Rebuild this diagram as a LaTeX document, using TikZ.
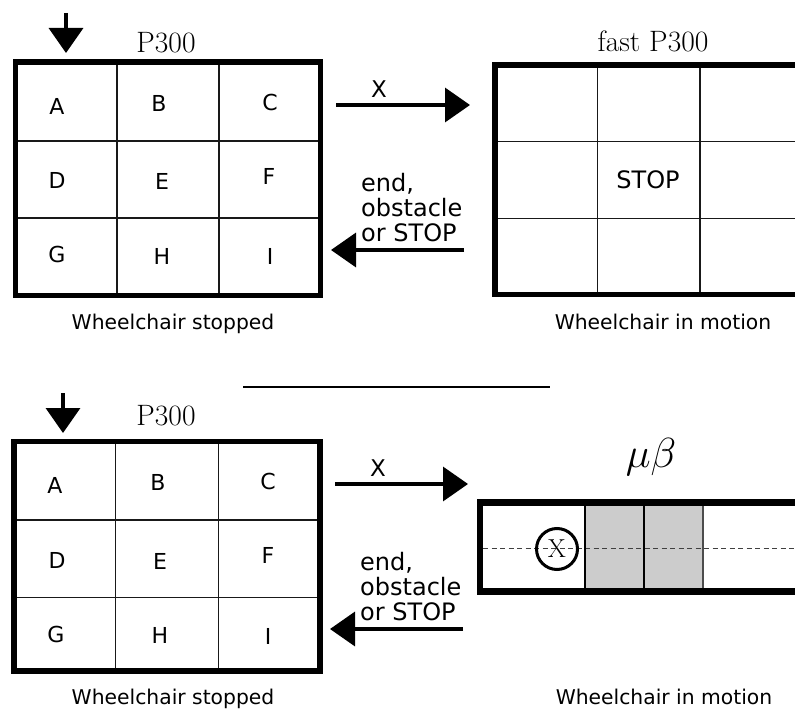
\documentclass[tikz,border=0pt]{standalone}
\usepackage{fontspec}
\newfontfamily\dejavu{DejaVu Sans}
\usetikzlibrary{arrows.meta}
\begin{document}
\begin{tikzpicture}[x=1pt,y=-1pt,
  frame/.style={line width=5.6pt, line join=miter},
  gridline/.style={line width=1.4pt, draw=black!90},
  celltext/.style={font=\dejavu\fontsize{22}{24}\selectfont, inner sep=0pt, anchor=base},
  caption/.style={font=\dejavu\fontsize{20.3}{24}\selectfont, inner sep=0pt, anchor=base},
  cond/.style={font=\dejavu\fontsize{24}{25}\selectfont, inner sep=0pt, anchor=base west},
  arrowlab/.style={font=\dejavu\fontsize{23}{25}\selectfont, inner sep=0pt, anchor=base},
  title/.style={font=\fontsize{29.5}{32}\selectfont, inner sep=0pt, anchor=base},
  flow/.style={line width=3.5pt, -{Triangle[length=25pt,width=34pt]}},
]
\useasboundingbox (0,0) rectangle (795,711);
\clip (0,0) rectangle (795,711);

% ---------- top-left grid ----------
\draw[gridline] (117,62) -- (117,295.5) (219,62) -- (219,295.5)
                (15.5,141) -- (320.5,141) (15.5,218) -- (320.5,218);
\draw[frame] (15.5,62) rectangle (320.5,295.5);
\node[celltext] (tA) at (57,115) {A};
\node[celltext] (tB) at (159,112) {B};
\node[celltext] (tC) at (270,111) {C};
\node[celltext] (tD) at (57,189) {D};
\node[celltext] (tE) at (162,190) {E};
\node[celltext] (tF) at (269,185) {F};
\node[celltext] (tG) at (57,263) {G};
\node[celltext] (tH) at (162,265) {H};
\node[celltext] (tI) at (270,265) {I};
\node[title] (tP) at (166,52.5) {P300};
\node[caption] (tcap1) at (173,329) {Wheelchair stopped};
\coordinate (d1s) at (66,13);
\coordinate (d1e) at (66,53);
\draw[flow] (d1s) -- (d1e);

% ---------- top-right grid ----------
\draw[gridline] (597.3,65) -- (597.3,294.5) (700,65) -- (700,294.5)
                (495,141.3) -- (803,141.3) (495,218.3) -- (803,218.3);
\draw[frame] (495,65) rectangle (803,294.5);
\node[celltext, font=\dejavu\fontsize{24}{26}\selectfont] (tstop) at (648,189) {STOP};
\node[title] (tfast) at (653,52) {fast P300};
\node[caption] (tcap2) at (663,329) {Wheelchair in motion};

% ---------- top arrows ----------
\coordinate (a1s) at (336,105);
\coordinate (a1e) at (470,105);
\draw[flow] (a1s) -- (a1e);
\node[arrowlab] (xl1) at (379,98) {X};
\coordinate (b1s) at (464,250);
\coordinate (b1e) at (331,250);
\draw[flow] (b1s) -- (b1e);
\node[cond] (c1a) at (361,192) {end,};
\node[cond] (c1b) at (361,217) {obstacle};
\node[cond] (c1c) at (361,242) {or STOP};

% ---------- separator ----------
\coordinate (sepL) at (243,387);
\coordinate (sepR) at (550,387);
\draw[line width=1.8pt] (sepL) -- (sepR);

% ---------- bottom-left grid ----------
\draw[gridline] (115.7,441.5) -- (115.7,671) (218.3,441.5) -- (218.3,671)
                (14,520) -- (320,520) (14,597.3) -- (320,597.3);
\draw[frame] (14,441.5) rectangle (320,671);
\node[celltext] (bA) at (55,493) {A};
\node[celltext] (bB) at (158,490) {B};
\node[celltext] (bC) at (268,489) {C};
\node[celltext] (bD) at (57,568) {D};
\node[celltext] (bE) at (160,569) {E};
\node[celltext] (bF) at (268,563) {F};
\node[celltext] (bG) at (56,642) {G};
\node[celltext] (bH) at (160,643) {H};
\node[celltext] (bI) at (268,644) {I};
\node[title] (bP) at (166,425) {P300};
\node[caption] (bcap1) at (173,704) {Wheelchair stopped};
\coordinate (d2s) at (63,393);
\coordinate (d2e) at (63,433);
\draw[flow] (d2s) -- (d2e);

% ---------- bottom arrows ----------
\coordinate (a2s) at (335,484);
\coordinate (a2e) at (468,484);
\draw[flow] (a2s) -- (a2e);
\node[arrowlab] (xl2) at (378,476) {X};
\coordinate (b2s) at (463,629);
\coordinate (b2e) at (330,629);
\draw[flow] (b2s) -- (b2e);
\node[cond] (c2a) at (360,570) {end,};
\node[cond] (c2b) at (360,595) {obstacle};
\node[cond] (c2c) at (360,620) {or STOP};

% ---------- bottom-right strip ----------
\fill[black!20] (585,506) rectangle (703,588);
\draw[line width=1pt, black!75, dash pattern=on 5pt off 3.5pt] (483,548) -- (800,548);
\draw[line width=1.3pt] (585,506) -- (585,588);
\draw[line width=2.5pt] (644,506) -- (644,588);
\draw[line width=1.3pt, black!70] (703,506) -- (703,588);
\draw[line width=6.5pt, line join=miter] (805,502.5) -- (480,502.5) -- (480,591.5) -- (805,591.5);
\node[circle, draw, line width=3pt, minimum size=41pt, inner sep=0pt,
      font=\fontsize{26}{28}\selectfont] (xc) at (557,549) {X};
\node[inner sep=0pt, font=\Huge, scale=1.69] (mb) at (651,456.5) {$\mu\beta$};
\node[caption] (bcap2) at (664,704) {Wheelchair in motion};
\end{tikzpicture}
\end{document}
